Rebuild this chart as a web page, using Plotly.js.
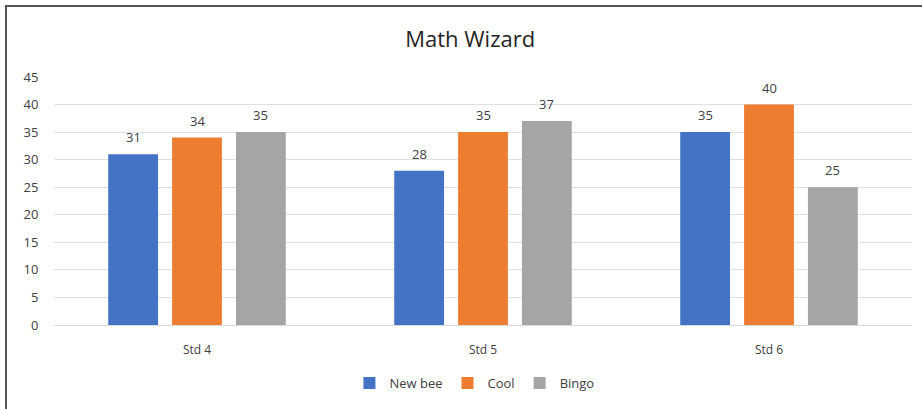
<!DOCTYPE html>
<html><head><meta charset="utf-8">
<script src="https://cdn.plot.ly/plotly-3.0.1.min.js"></script>
<style>
html,body{margin:0;padding:0;background:#fff;}
#frame{position:absolute;left:5px;top:5px;width:917px;height:404px;border-left:2px solid #555;border-top:2px solid #555;box-sizing:border-box;pointer-events:none;}
#chart{width:922px;height:409px;}
</style></head>
<body>
<div id="chart"></div>
<div id="frame"></div>
<script>
const categories = ["Std 4", "Std 5", "Std 6"];
const newBee = [31, 28, 35];
const cool = [34, 35, 40];
const bingo = [35, 37, 25];
const seriesNames = ["New bee", "Cool", "Bingo"];
const colors = ["#4472C4", "#ED7D31", "#A5A5A5"];
const yTicks = [0, 5, 10, 15, 20, 25, 30, 35, 40, 45];

const FONT = "Open Sans, sans-serif";
const W = 922, H = 409, ML = 54, MR = 10;
const BARGAP = 0.33, BARGROUPGAP = 0.22;
const series = [newBee, cool, bingo];

const traces = series.map((vals, i) => ({
  type: "bar",
  name: seriesNames[i],
  x: categories,
  y: vals,
  marker: {color: colors[i]}
}));

// value labels, placed over each bar via the axis scales
const catWidthPx = (W - ML - MR) / categories.length;
const slotPx = catWidthPx * (1 - BARGAP) / series.length;
const annotations = [];
series.forEach((vals, i) => {
  vals.forEach((v, j) => {
    annotations.push({
      x: categories[j], y: v, xref: "x", yref: "y",
      text: String(v), showarrow: false,
      xshift: (i - (series.length - 1) / 2) * slotPx,
      yshift: 17, yanchor: "middle", xanchor: "center",
      font: {family: FONT, size: 13, color: "#404040"}
    });
  });
});

const layout = {
  width: W, height: H,
  margin: {l: ML, r: MR, t: 77, b: 84},
  paper_bgcolor: "#fff", plot_bgcolor: "#fff",
  title: {text: "Math Wizard", x: 0.51, xanchor: "center", y: 0.905, yanchor: "middle",
          font: {family: FONT, size: 22, color: "#262626"}},
  barmode: "group", bargap: BARGAP, bargroupgap: BARGROUPGAP,
  xaxis: {tickfont: {family: FONT, size: 12, color: "#404040"},
          showline: false, ticks: "outside", ticklen: 14, tickcolor: "rgba(0,0,0,0)", fixedrange: true},
  yaxis: {range: [0, 45], tickvals: yTicks, gridcolor: "#e0e0e0", gridwidth: 1,
          zeroline: true, zerolinecolor: "#d9d9d9", zerolinewidth: 1,
          tickfont: {family: FONT, size: 13, color: "#404040"},
          ticks: "outside", ticklen: 12, tickcolor: "rgba(0,0,0,0)", fixedrange: true},
  annotations: annotations,
  showlegend: true,
  legend: {orientation: "h", x: 0.49, xanchor: "center", y: -0.234, yanchor: "middle",
           font: {family: FONT, size: 13, color: "#404040"},
           itemwidth: 30, traceorder: "normal"},
  font: {family: FONT}
};

Plotly.newPlot("chart", traces, layout, {displayModeBar: false, staticPlot: true});
</script>
</body></html>
